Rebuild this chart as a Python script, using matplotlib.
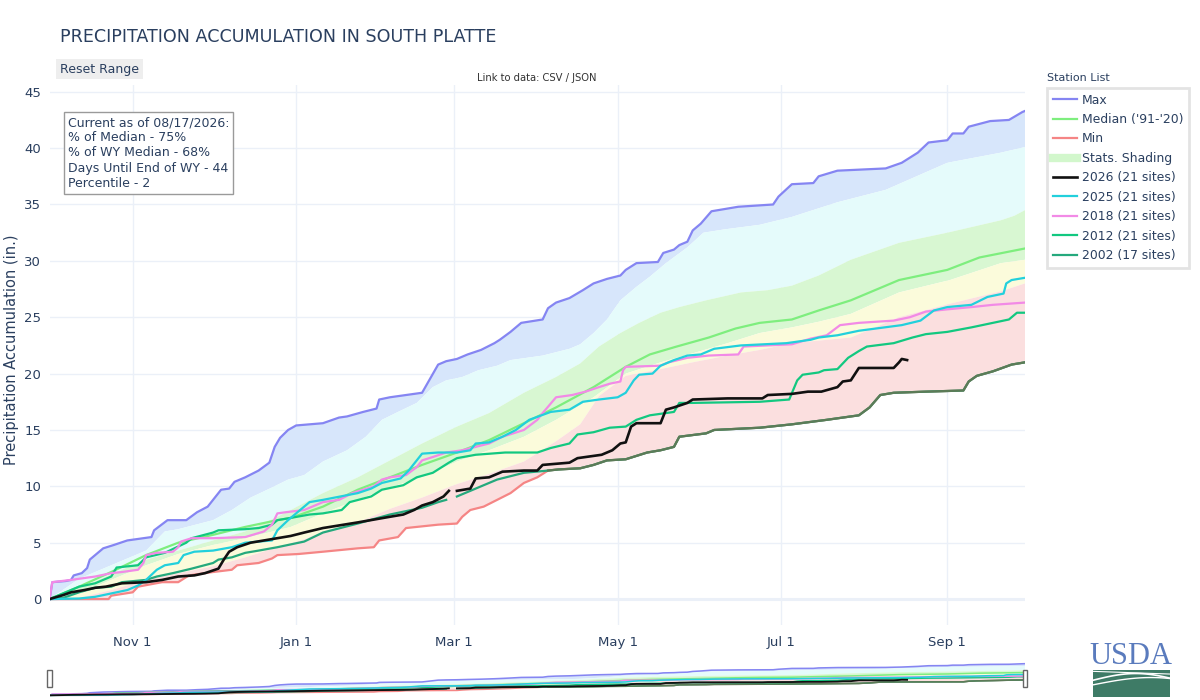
import numpy as np
import matplotlib
matplotlib.use("Agg")
import matplotlib.pyplot as plt
import matplotlib.dates as mdates
from matplotlib.lines import Line2D
from matplotlib.patches import Rectangle

plt.rcParams['font.family'] = ['DejaVu Sans']

START = np.datetime64("2025-10-01")

# ---------------- data: days since Oct 1 (water year 2026), inches ----------------
max_days = [0, 1, 6, 8, 9, 12, 14, 15, 17, 20, 24, 29, 35, 38, 39, 44, 51, 55, 59, 64, 67, 69, 73, 78, 82, 84,
            86, 89, 92, 102, 108, 111, 117, 122, 123, 127, 139, 145, 148, 152, 156, 161, 166, 168, 172, 176, 184,
            186, 189, 194, 199, 203, 208, 213, 215, 219, 227, 229, 233, 235, 238, 240, 243, 247, 257, 270, 272,
            277, 285, 287, 294, 312, 318, 324, 328, 335, 337, 341, 343, 351, 358, 363, 364]
max_vals = [0, 1.5, 1.6, 1.7, 2.1, 2.3, 2.75, 3.5, 3.9, 4.5, 4.8, 5.2, 5.4, 5.5, 6.1, 7.0, 7.0, 7.7, 8.2, 9.7, 9.8,
            10.4, 10.8, 11.4, 12.1, 13.5, 14.3, 15.0, 15.4, 15.6, 16.1, 16.2, 16.6, 16.9, 17.7, 17.9, 18.3, 20.8,
            21.1, 21.3, 21.7, 22.1, 22.7, 23.0, 23.7, 24.5, 24.8, 25.8, 26.3, 26.7, 27.4, 28.0, 28.4, 28.7, 29.2,
            29.8, 29.9, 30.7, 31.0, 31.4, 31.7, 32.7, 33.3, 34.4, 34.8, 35.0, 35.7, 36.8, 36.9, 37.5, 38.0, 38.2,
            38.7, 39.6, 40.5, 40.7, 41.3, 41.3, 41.9, 42.4, 42.5, 43.2, 43.3]

p90_days = [0, 11, 23, 36, 43, 48, 61, 68, 75, 83, 89, 95, 102, 111, 118, 124, 130, 137, 143, 148, 154, 160, 167,
            172, 184, 194, 198, 203, 208, 213, 219, 224, 230, 238, 244, 252, 265, 277, 294, 312, 335, 355, 364]
p90_vals = [0, 1.8, 3.0, 4.3, 6.0, 6.2, 7.0, 7.9, 9.0, 9.9, 10.6, 11.0, 12.2, 13.2, 14.4, 15.9, 16.6, 17.4, 18.8,
            19.4, 19.7, 20.3, 20.7, 21.2, 21.6, 22.2, 22.6, 23.6, 24.8, 26.5, 27.7, 28.6, 29.8, 31.2, 32.5, 32.8,
            33.2, 33.9, 35.2, 36.3, 38.7, 39.6, 40.1]

p70_days = [0, 11, 23, 36, 48, 61, 73, 85, 90, 102, 115, 127, 139, 152, 164, 177, 189, 198, 205, 213, 220, 228,
            235, 245, 258, 268, 277, 287, 299, 317, 335, 355, 360, 364]
p70_vals = [0, 1.0, 2.2, 3.5, 4.3, 5.2, 6.0, 7.3, 7.9, 9.4, 10.8, 12.3, 13.8, 15.3, 16.5, 18.3, 19.7, 20.9, 22.4,
            23.6, 24.5, 25.4, 25.9, 26.5, 27.2, 27.4, 27.8, 28.7, 30.1, 31.6, 32.5, 33.6, 34.0, 34.5]

median_days = [0, 11, 23, 36, 48, 61, 73, 85, 90, 102, 115, 127, 139, 152, 164, 177, 189, 203, 215, 224, 234, 246,
               256, 265, 277, 287, 299, 317, 335, 347, 364]
median_vals = [0, 1.1, 2.4, 3.9, 5.0, 5.7, 6.4, 7.0, 7.2, 8.2, 9.7, 10.8, 11.9, 13.0, 14.1, 15.6, 17.0, 18.8, 20.6,
               21.7, 22.4, 23.2, 24.0, 24.5, 24.8, 25.6, 26.5, 28.3, 29.2, 30.3, 31.1]

p30_days = [0, 11, 23, 36, 48, 61, 73, 85, 90, 102, 115, 127, 139, 152, 164, 177, 189, 203, 215, 228, 240, 253,
            265, 277, 287, 299, 317, 336, 355, 364]
p30_vals = [0, 0.5, 1.7, 3.0, 4.0, 4.8, 5.4, 6.1, 6.4, 7.6, 8.8, 9.9, 10.8, 12.2, 13.2, 14.4, 15.9, 17.9, 20.0,
            21.0, 21.8, 22.7, 23.6, 24.1, 24.6, 25.3, 27.2, 28.3, 29.8, 30.1]

p10_days = [0, 11, 23, 36, 48, 61, 73, 85, 95, 102, 115, 127, 139, 152, 164, 177, 189, 198, 205, 215, 228, 240,
            253, 265, 277, 299, 317, 336, 355, 364]
p10_vals = [0, 0.1, 0.8, 1.7, 2.3, 2.9, 3.7, 4.6, 5.3, 6.0, 6.8, 8.0, 9.0, 10.2, 11.1, 12.2, 14.0, 15.5, 18.0,
            19.8, 20.4, 21.0, 21.6, 22.1, 22.7, 23.2, 25.0, 26.2, 27.3, 28.0]

min_days = [0, 22, 23, 31, 33, 42, 48, 52, 61, 68, 70, 78, 83, 85, 93, 102, 115, 121, 123, 130, 133, 145, 152, 154,
            157, 162, 167, 172, 177, 182, 186, 190, 198, 203, 208, 215, 223, 228, 233, 235, 245, 248, 265, 277,
            290, 302, 306, 310, 315, 327, 341, 343, 346, 352, 359, 364]
min_vals = [0, 0, 0.3, 0.6, 1.1, 1.5, 1.5, 2.1, 2.4, 2.6, 3.0, 3.2, 3.6, 3.9, 4.0, 4.2, 4.5, 4.6, 5.2, 5.5, 6.3, 6.6,
            6.7, 7.3, 7.9, 8.2, 8.8, 9.4, 10.3, 10.8, 11.4, 11.5, 11.6, 11.9, 12.3, 12.4, 13.0, 13.2, 13.5, 14.4,
            14.7, 15.0, 15.2, 15.5, 15.9, 16.3, 17.0, 18.1, 18.3, 18.4, 18.5, 19.3, 19.8, 20.2, 20.8, 21.0]

wy2026_days = [0, 5, 8, 13, 17, 21, 23, 27, 36, 42, 48, 54, 58, 63, 65, 67, 70, 75, 80, 85, 90, 95, 102, 115, 127,
               132, 136, 139, 143, 147, 149, 150, 152, 157, 159, 164, 169, 177, 182, 184, 194, 197, 200, 206, 210,
               213, 215, 217, 219, 228, 230, 233, 238, 240, 253, 266, 268, 277, 283, 288, 294, 296, 299, 302, 315,
               317, 318, 320]
wy2026_vals = [0, 0.35, 0.6, 0.8, 1.0, 1.1, 1.2, 1.4, 1.5, 1.7, 2.0, 2.1, 2.3, 2.7, 3.5, 4.2, 4.6, 5.0, 5.2, 5.4,
               5.6, 5.9, 6.3, 6.8, 7.3, 7.5, 7.9, 8.3, 8.6, 9.1, 9.6, np.nan, 9.6, 9.8, 10.7, 10.8, 11.3, 11.4, 11.4,
               11.9, 12.1, 12.5, 12.6, 12.8, 13.2, 13.8, 13.9, 15.3, 15.6, 15.6, 16.8, 17.0, 17.4, 17.7, 17.8, 17.8,
               18.1, 18.2, 18.4, 18.4, 18.8, 19.3, 19.4, 20.5, 20.5, 21.0, 21.3, 21.2]

wy2025_days = [0, 11, 17, 23, 29, 33, 36, 40, 43, 48, 50, 54, 61, 68, 73, 78, 83, 85, 89, 92, 97, 102, 115, 120,
               124, 131, 134, 137, 139, 145, 152, 157, 159, 164, 169, 174, 179, 187, 194, 199, 205, 212, 215, 218,
               220, 225, 228, 233, 238, 243, 248, 258, 275, 284, 287, 294, 302, 318, 325, 330, 335, 344, 350, 356,
               357, 359, 364]
wy2025_vals = [0, 0.05, 0.2, 0.5, 0.8, 1.2, 1.7, 2.6, 3.0, 3.2, 3.9, 4.2, 4.3, 4.6, 5.0, 5.1, 5.2, 6.1, 7.0, 7.6,
               8.6, 8.8, 9.4, 9.8, 10.3, 10.7, 11.4, 12.3, 12.9, 13.0, 13.0, 13.2, 13.8, 13.9, 14.4, 15.0, 15.9,
               16.6, 16.8, 17.5, 17.7, 17.9, 18.3, 19.4, 19.9, 20.0, 20.7, 21.2, 21.6, 21.7, 22.2, 22.5, 22.7, 23.0,
               23.2, 23.4, 23.8, 24.3, 24.7, 25.6, 25.9, 26.1, 26.8, 27.1, 28.0, 28.3, 28.5]

wy2018_days = [0, 1, 8, 17, 23, 27, 33, 35, 36, 40, 46, 48, 49, 53, 61, 73, 80, 83, 85, 88, 95, 102, 108, 113, 121,
               124, 127, 133, 137, 139, 143, 148, 154, 159, 164, 169, 177, 182, 184, 189, 195, 200, 205, 209, 213,
               214, 215, 228, 231, 238, 246, 257, 259, 277, 284, 290, 295, 302, 315, 321, 327, 335, 344, 352, 364]
wy2018_vals = [0, 1.5, 1.7, 2.0, 2.3, 2.4, 2.6, 3.2, 3.9, 4.1, 4.2, 4.6, 5.1, 5.4, 5.4, 5.5, 6.0, 6.6, 7.6, 7.7,
               7.9, 8.6, 8.8, 9.4, 10.0, 10.6, 10.8, 11.0, 11.7, 12.3, 12.6, 13.0, 13.2, 13.5, 13.8, 14.4, 15.0,
               15.9, 16.5, 17.9, 18.1, 18.4, 18.8, 19.1, 19.3, 20.3, 20.6, 20.7, 21.0, 21.4, 21.6, 21.7, 22.4, 22.6,
               23.1, 23.4, 24.3, 24.5, 24.7, 25.0, 25.5, 25.7, 25.9, 26.1, 26.3]

wy2012_days = [0, 6, 11, 17, 23, 25, 33, 36, 43, 51, 53, 61, 63, 73, 78, 83, 85, 90, 97, 102, 109, 112, 120, 124,
               132, 137, 143, 149, 152, 159, 170, 182, 187, 194, 197, 203, 209, 215, 219, 224, 233, 235, 240, 265,
               276, 279, 281, 287, 289, 294, 298, 302, 305, 315, 322, 327, 335, 344, 358, 361, 364]
wy2012_vals = [0, 0.6, 1.1, 1.4, 2.0, 2.8, 3.0, 3.7, 4.1, 5.0, 5.4, 5.9, 6.1, 6.2, 6.3, 6.6, 7.0, 7.2, 7.5, 7.6,
               7.9, 8.6, 9.1, 9.7, 10.1, 10.8, 11.2, 12.1, 12.5, 12.8, 13.0, 13.0, 13.4, 13.8, 14.6, 14.8, 15.2,
               15.3, 15.9, 16.3, 16.6, 17.4, 17.4, 17.5, 17.7, 19.4, 19.9, 20.1, 20.3, 20.4, 21.4, 22.0, 22.4, 22.7,
               23.2, 23.5, 23.7, 24.1, 24.8, 25.4, 25.4]

wy2002_days = [0, 5, 11, 17, 23, 27, 36, 40, 46, 53, 61, 63, 68, 73, 78, 85, 95, 102, 115, 127, 139, 145, 148, 150,
               152, 159, 167, 177, 186, 190, 198, 203, 208, 215, 223, 228, 233, 235, 245, 248, 265, 277, 290, 302,
               306, 310, 315, 327, 341, 343, 346, 352, 359, 364]
wy2002_vals = [0, 0.1, 0.6, 1.0, 1.1, 1.5, 1.7, 2.0, 2.3, 2.7, 3.2, 3.5, 3.7, 4.1, 4.3, 4.6, 5.1, 5.9, 6.7, 7.5,
               8.1, 8.6, 8.8, np.nan, 9.1, 9.8, 10.6, 11.2, 11.4, 11.5, 11.6, 11.9, 12.3, 12.4, 13.0, 13.2, 13.5,
               14.4, 14.7, 15.0, 15.2, 15.5, 15.9, 16.3, 17.0, 18.1, 18.3, 18.4, 18.5, 19.3, 19.8, 20.2, 20.8, 21.0]

x_tick_months = [11, 1, 3, 5, 7, 9]
y_ticks = [0, 5, 10, 15, 20, 25, 30, 35, 40, 45]

info_lines = ["Current as of 08/17/2026:", "% of Median - 75%", "% of WY Median - 68%",
              "Days Until End of WY - 44", "Percentile - 2"]

legend_labels = ["Max", "Median ('91-'20)", "Min", "Stats. Shading", "2026 (21 sites)", "2025 (21 sites)",
                 "2018 (21 sites)", "2012 (21 sites)", "2002 (17 sites)"]

# ---------------- styles ----------------
TXT = "#2a3f5f"
C_MAX, C_MED, C_MIN = "#8585f2", "#7eee7e", "#f58585"
C_2026, C_2025, C_2018, C_2012, C_2002 = "#111111", "#22d0dc", "#f28ae6", "#12c880", "#25a97d"
C_OVER = "#5c7b57"
B_TOP, B_HI, B_MID, B_LO, B_BOT = "#d7e6fb", "#e5fbfb", "#d8f7d2", "#fbfbdb", "#fbdfdf"


def to_dates(days):
    return START + np.asarray(days).astype("timedelta64[D]")


def band(ax, d_hi, v_hi, d_lo, v_lo, color):
    xs = np.concatenate([to_dates(d_hi), to_dates(d_lo)[::-1]])
    ys = np.concatenate([np.asarray(v_hi, float), np.asarray(v_lo, float)[::-1]])
    ax.fill(xs, ys, color=color, lw=0, zorder=1)


def draw_all(ax, s):
    band(ax, max_days, max_vals, p90_days, p90_vals, B_TOP)
    band(ax, p90_days, p90_vals, p70_days, p70_vals, B_HI)
    band(ax, p70_days, p70_vals, p30_days, p30_vals, B_MID)
    band(ax, p30_days, p30_vals, p10_days, p10_vals, B_LO)
    band(ax, p10_days, p10_vals, min_days, min_vals, B_BOT)
    ax.plot(to_dates(min_days), min_vals, color=C_MIN, lw=1.6 * s, zorder=3)
    ax.plot(to_dates(max_days), max_vals, color=C_MAX, lw=1.6 * s, zorder=3)
    ax.plot(to_dates(median_days), median_vals, color=C_MED, lw=1.6 * s, zorder=3)
    y02 = np.asarray(wy2002_vals, float)
    ax.plot(to_dates(wy2002_days), y02, color=C_2002, lw=1.6 * s, zorder=4)
    # where 2002 coincides with the minimum the two lines blend
    mn = np.interp(wy2002_days, min_days, min_vals)
    over = np.where(np.isclose(y02, mn) & (np.asarray(wy2002_days) > 100), y02, np.nan)
    ax.plot(to_dates(wy2002_days), over, color=C_OVER, lw=1.6 * s, zorder=4)
    ax.plot(to_dates(wy2012_days), wy2012_vals, color=C_2012, lw=1.6 * s, zorder=4)
    ax.plot(to_dates(wy2018_days), wy2018_vals, color=C_2018, lw=1.6 * s, zorder=4)
    ax.plot(to_dates(wy2025_days), wy2025_vals, color=C_2025, lw=1.6 * s, zorder=5)
    ax.plot(to_dates(wy2026_days), wy2026_vals, color=C_2026, lw=1.9 * s, zorder=6)
    ax.set_xlim(START, START + np.timedelta64(364, "D"))
    ax.set_ylim(-2.3, 45.6)


W, H = 1200, 700
fig = plt.figure(figsize=(12, 7), dpi=100)


def fx(x):
    return x / W


def fy(y):
    return 1 - y / H


# main axes
ax = fig.add_axes([fx(49.6), fy(625), (1025 - 49.6) / W, (625 - 85) / H])
draw_all(ax, 1.0)
for sp in ax.spines.values():
    sp.set_visible(False)
ax.grid(True, color="#ebf0f8", lw=1.0, zorder=0)
ax.axhline(0, color="#ebf0f8", lw=2.2, zorder=0.5)
ax.set_axisbelow(True)
ax.set_yticks(y_ticks)
ax.xaxis.set_major_locator(mdates.MonthLocator(bymonth=x_tick_months))
ax.xaxis.set_major_formatter(mdates.DateFormatter("%b %-d"))
ax.tick_params(axis="both", length=0, labelcolor=TXT, labelsize=9.5)
ax.tick_params(axis="x", pad=8)
ax.tick_params(axis="y", pad=6)

# range slider
rs = fig.add_axes([fx(49.6), fy(697), (1025 - 49.6) / W, 35 / H])
draw_all(rs, 0.7)
rs.set_xticks([])
rs.set_yticks([])
for sp in rs.spines.values():
    sp.set_visible(False)
for xh in (0.0, 1.0):
    rs.add_patch(Rectangle((xh - 0.0025, 0.28), 0.005, 0.5, transform=rs.transAxes, facecolor="white",
                           edgecolor="#666666", lw=1.0, clip_on=False, zorder=10))

# texts
fig.text(fx(60), fy(37), "PRECIPITATION ACCUMULATION IN SOUTH PLATTE", fontsize=12.6, color=TXT,
         ha="left", va="center")
fig.text(fx(60), fy(69), "Reset Range", fontsize=9, color=TXT, ha="left", va="center",
         bbox=dict(boxstyle="square,pad=0.3", facecolor="#eeeeee", edgecolor="none"))
fig.text(fx(537), fy(78), "Link to data: CSV / JSON", fontsize=7.2, color="#333333", ha="center", va="center")
fig.text(fx(12), fy(350), "Precipitation Accumulation (in.)", fontsize=10.5, color=TXT, rotation=90,
         ha="center", va="center")
fig.text(fx(68), fy(116), "\n".join(info_lines), fontsize=9.0, color=TXT, ha="left", va="top", linespacing=1.22,
         bbox=dict(boxstyle="square,pad=0.3", facecolor="white", edgecolor="#9a9a9a", lw=1.0))

# legend
handles = [Line2D([], [], color=C_MAX, lw=1.6), Line2D([], [], color=C_MED, lw=1.6),
           Line2D([], [], color=C_MIN, lw=1.6), Line2D([], [], color="#d2f7cc", lw=6),
           Line2D([], [], color=C_2026, lw=1.9), Line2D([], [], color=C_2025, lw=1.6),
           Line2D([], [], color=C_2018, lw=1.6), Line2D([], [], color=C_2012, lw=1.6),
           Line2D([], [], color=C_2002, lw=1.6)]
leg = fig.legend(handles, legend_labels, loc="upper left", bbox_to_anchor=(fx(1047), fy(88)), frameon=True,
                 fancybox=False, fontsize=8.9, labelcolor=TXT, edgecolor="#dddddd", borderpad=0.45,
                 handlelength=2.0, labelspacing=0.52, handletextpad=0.4, borderaxespad=0)
leg.get_frame().set_linewidth(2)
fig.text(fx(1047), fy(78), "Station List", fontsize=8, color=TXT, ha="left", va="center")

# USDA logo
fig.text(fx(1131), fy(656), "USDA", fontsize=22, color="#5a7bbd", ha="center", va="center",
         family="Liberation Serif")
lg = fig.add_axes([fx(1093), fy(697), 77 / W, 27 / H])
lg.set_xlim(0, 1)
lg.set_ylim(0, 1)
lg.axis("off")
lg.add_patch(Rectangle((0, 0), 1, 1, facecolor="#3e7b66", edgecolor="none"))
t = np.linspace(0, 1, 50)
lg.plot(t, 0.62 + 0.25 * np.sin(np.pi * t * 0.9), color="white", lw=1.2)
lg.plot(t, 0.45 + 0.35 * np.sin(np.pi * t * 0.6) - 0.1 * t, color="white", lw=1.0)
lg.plot(t, 0.95 - 0.1 * t, color="white", lw=0.8)

fig.savefig("out.png", dpi=100)
